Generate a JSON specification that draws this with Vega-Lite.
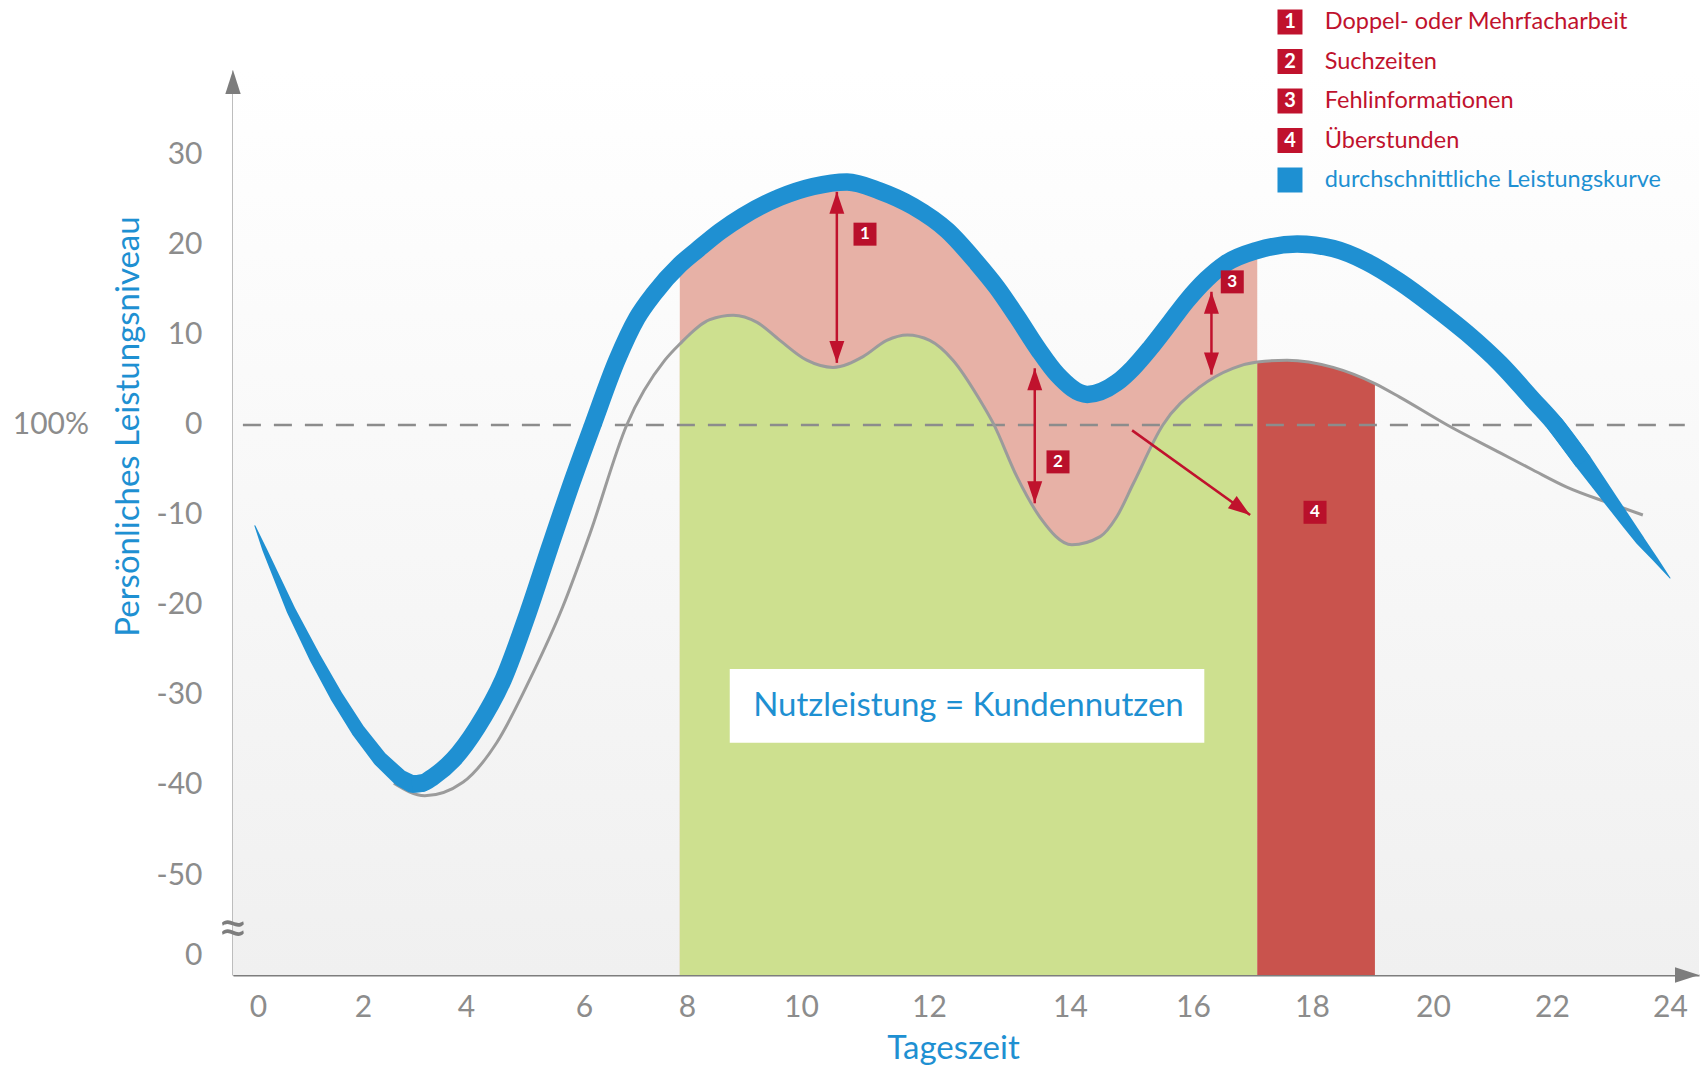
{
  "$schema": "https://vega.github.io/schema/vega-lite/v6.json",
  "width": 1466,
  "height": 905,
  "autosize": {"type": "none"},
  "padding": {"left": 233, "top": 70, "right": 3, "bottom": 90},
  "background": "white",
  "config": {"view": {"stroke": null}, "font": "Lato"},
  "datasets": {
    "leistung": [
      {"t": -0.06, "niveau": -11.2, "streuung": 0},
      {"t": 0.13, "niveau": -13.9, "streuung": 0.55},
      {"t": 0.63, "niveau": -20.6, "streuung": 1.05},
      {"t": 1.09, "niveau": -25.9, "streuung": 1.35},
      {"t": 1.49, "niveau": -30.1, "streuung": 1.5},
      {"t": 1.9, "niveau": -33.9, "streuung": 1.6},
      {"t": 2.33, "niveau": -37.1, "streuung": 1.75},
      {"t": 2.72, "niveau": -39.2, "streuung": 1.9},
      {"t": 2.95, "niveau": -39.9, "streuung": 2.0},
      {"t": 3.15, "niveau": -39.8, "streuung": 2.0},
      {"t": 3.36, "niveau": -39.1, "streuung": 2.0},
      {"t": 3.75, "niveau": -37.2, "streuung": 2.0},
      {"t": 4.19, "niveau": -33.6, "streuung": 2.0},
      {"t": 4.63, "niveau": -28.3, "streuung": 2.0},
      {"t": 5.05, "niveau": -20.9, "streuung": 2.0},
      {"t": 5.42, "niveau": -13.6, "streuung": 2.0},
      {"t": 5.81, "niveau": -6.1, "streuung": 2.0},
      {"t": 6.17, "niveau": 0.0, "streuung": 2.0},
      {"t": 6.64, "niveau": 7.2, "streuung": 2.0},
      {"t": 7.03, "niveau": 11.9, "streuung": 2.0},
      {"t": 7.36, "niveau": 14.6, "streuung": 2.0},
      {"t": 7.86, "niveau": 17.8, "streuung": 2.0},
      {"t": 8.19, "niveau": 19.5, "streuung": 2.0},
      {"t": 8.58, "niveau": 21.5, "streuung": 2.0},
      {"t": 8.98, "niveau": 23.2, "streuung": 2.0},
      {"t": 9.63, "niveau": 25.3, "streuung": 2.0},
      {"t": 10.19, "niveau": 26.5, "streuung": 2.0},
      {"t": 10.72, "niveau": 27.0, "streuung": 2.0},
      {"t": 11.23, "niveau": 26.0, "streuung": 2.0},
      {"t": 11.75, "niveau": 24.3, "streuung": 2.0},
      {"t": 12.26, "niveau": 21.6, "streuung": 2.0},
      {"t": 12.68, "niveau": 18.0, "streuung": 2.0},
      {"t": 12.96, "niveau": 15.3, "streuung": 2.0},
      {"t": 13.25, "niveau": 12.0, "streuung": 2.0},
      {"t": 13.55, "niveau": 8.4, "streuung": 2.0},
      {"t": 13.82, "niveau": 5.6, "streuung": 2.0},
      {"t": 14.28, "niveau": 3.4, "streuung": 2.0},
      {"t": 14.76, "niveau": 4.7, "streuung": 2.0},
      {"t": 15.02, "niveau": 6.3, "streuung": 2.0},
      {"t": 15.3, "niveau": 8.5, "streuung": 2.0},
      {"t": 15.63, "niveau": 11.4, "streuung": 2.0},
      {"t": 15.9, "niveau": 13.8, "streuung": 2.0},
      {"t": 16.23, "niveau": 16.2, "streuung": 2.0},
      {"t": 16.54, "niveau": 17.9, "streuung": 2.0},
      {"t": 17.08, "niveau": 19.4, "streuung": 2.0},
      {"t": 17.75, "niveau": 20.1, "streuung": 2.0},
      {"t": 18.35, "niveau": 19.6, "streuung": 2.0},
      {"t": 18.91, "niveau": 18.1, "streuung": 2.0},
      {"t": 19.45, "niveau": 15.9, "streuung": 2.0},
      {"t": 20.0, "niveau": 13.2, "streuung": 2.0},
      {"t": 20.57, "niveau": 10.2, "streuung": 2.0},
      {"t": 21.13, "niveau": 6.8, "streuung": 2.0},
      {"t": 21.68, "niveau": 2.8, "streuung": 2.0},
      {"t": 22.05, "niveau": 0.1, "streuung": 2.0},
      {"t": 22.53, "niveau": -4.1, "streuung": 2.0},
      {"t": 22.98, "niveau": -8.2, "streuung": 1.6},
      {"t": 23.3, "niveau": -11.1, "streuung": 1.3},
      {"t": 23.49, "niveau": -12.8, "streuung": 1.1},
      {"t": 23.75, "niveau": -14.9, "streuung": 0.6},
      {"t": 24.0, "niveau": -17.0, "streuung": 0}
    ],
    "nutz": [
      {"t": 2.6, "niveau": -39.8},
      {"t": 3.2, "niveau": -41.2},
      {"t": 3.94, "niveau": -39.7},
      {"t": 4.52, "niveau": -35.3},
      {"t": 5.08, "niveau": -28.3},
      {"t": 5.64, "niveau": -20.2},
      {"t": 6.12, "niveau": -12.0},
      {"t": 6.83, "niveau": 0.0},
      {"t": 7.57, "niveau": 7.2},
      {"t": 7.86, "niveau": 9.0},
      {"t": 8.4, "niveau": 11.7},
      {"t": 8.81, "niveau": 12.2},
      {"t": 9.23, "niveau": 11.4},
      {"t": 9.63, "niveau": 9.4},
      {"t": 10.09, "niveau": 7.2},
      {"t": 10.5, "niveau": 6.4},
      {"t": 10.97, "niveau": 7.6},
      {"t": 11.34, "niveau": 9.4},
      {"t": 11.66, "niveau": 10.0},
      {"t": 12.01, "niveau": 9.4},
      {"t": 12.34, "niveau": 7.2},
      {"t": 12.72, "niveau": 2.8},
      {"t": 12.91, "niveau": 0.2},
      {"t": 13.25, "niveau": -5.8},
      {"t": 13.57, "niveau": -10.2},
      {"t": 14.03, "niveau": -13.3},
      {"t": 14.49, "niveau": -12.4},
      {"t": 14.76, "niveau": -10.2},
      {"t": 15.03, "niveau": -6.5},
      {"t": 15.51, "niveau": 0.0},
      {"t": 16.11, "niveau": 4.2},
      {"t": 16.67, "niveau": 6.3},
      {"t": 17.08, "niveau": 7.0},
      {"t": 17.58, "niveau": 7.2},
      {"t": 18.35, "niveau": 6.4},
      {"t": 19.04, "niveau": 4.6},
      {"t": 19.45, "niveau": 3.1},
      {"t": 20.24, "niveau": 0.0},
      {"t": 21.13, "niveau": -3.1},
      {"t": 21.68, "niveau": -5.0},
      {"t": 22.25, "niveau": -6.9},
      {"t": 22.98, "niveau": -8.7},
      {"t": 23.54, "niveau": -10.0}
    ],
    "pfeile": [
      {"nr": "1", "t": 10.56, "von": 25.9, "bis": 6.9},
      {"nr": "2", "t": 13.5, "von": 6.3, "bis": -8.7},
      {"nr": "3", "t": 16.31, "von": 14.8, "bis": 5.6}
    ],
    "pfeil4": [
      {"nr": "4", "t": 15.01, "von": -0.6, "t2": 16.96, "bis": -10.0}
    ],
    "marker": [
      {"nr": "1", "t": 11.0, "niveau": 21.2},
      {"nr": "2", "t": 13.83, "niveau": -4.1},
      {"nr": "3", "t": 16.66, "niveau": 15.9},
      {"nr": "4", "t": 18.05, "niveau": -9.7}
    ],
    "legende": [
      {"nr": "1", "eintrag": "Doppel- oder Mehrfacharbeit", "typ": "Verlust"},
      {"nr": "2", "eintrag": "Suchzeiten", "typ": "Verlust"},
      {"nr": "3", "eintrag": "Fehlinformationen", "typ": "Verlust"},
      {"nr": "4", "eintrag": "Überstunden", "typ": "Verlust"},
      {"nr": "", "eintrag": "durchschnittliche Leistungskurve", "typ": "Kurve"}
    ]
  },
  "resolve": {"scale": {"y": "independent"}},
  "layer": [
    {
      "layer": [
        {
          "data": {"values": [{}]},
          "mark": {"type": "rect", "color": {"gradient": "linear", "x1": 0, "y1": 0, "x2": 0, "y2": 1, "stops": [{"offset": 0, "color": "#ffffff"}, {"offset": 1, "color": "#f0f0f0"}]}},
          "encoding": {
            "x": {"datum": -0.48, "type": "quantitative",
              "scale": {"domain": [-0.48, 0, 2, 4, 6, 8, 10, 12, 14, 16, 18, 20, 22, 24, 24.49], "range": [0, 25, 130, 233, 351, 454, 568, 696, 837, 960, 1079, 1200, 1319, 1437, 1466], "nice": false, "zero": false},
              "axis": {"values": [0, 2, 4, 6, 8, 10, 12, 14, 16, 18, 20, 22, 24], "labelExpr": "'' + datum.value", "title": "Tageszeit", "titleColor": "#1e90d2", "titleFontSize": 33, "titleFontWeight": "normal", "titleX": 720, "titleY": 73, "titleBaseline": "middle", "labelPadding": 17, "ticks": false, "tickSize": 0, "grid": false, "domainColor": "#7d7d7d", "domainWidth": 2, "labelColor": "#8c8c8c", "labelFontSize": 30, "labelFlush": false, "labelOverlap": false, "orient": "bottom"}},
            "x2": {"datum": 24.49},
            "y": {"datum": 39.44, "type": "quantitative",
              "scale": {"domain": [-61.11, 39.44], "nice": false, "zero": false},
              "axis": {"values": [30, 20, 10, 0, -10, -20, -30, -40, -50, -58.9], "labelExpr": "datum.value < -55 ? '0' : '' + datum.value", "title": "Persönliches Leistungsniveau", "titleColor": "#1e90d2", "titleFontSize": 33, "titleFontWeight": "normal", "titleAngle": -90, "titleX": -105, "titleY": 356, "titleBaseline": "middle", "titleAlign": "center", "labelPadding": 31, "ticks": false, "tickSize": 0, "grid": false, "domainColor": "#7d7d7d", "domainWidth": 2, "labelColor": "#8c8c8c", "labelFontSize": 30, "labelOverlap": false, "labelFlush": false}},
            "y2": {"datum": -61.11}
          }
        },
        {
          "data": {"name": "leistung"},
          "transform": [{"filter": "datum.t >= 7.86 && datum.t <= 17.08"}],
          "mark": {"type": "area", "color": "#e7b1a6", "interpolate": "monotone"},
          "encoding": {"x": {"field": "t", "type": "quantitative"}, "y": {"field": "niveau", "type": "quantitative"}, "y2": {"datum": -61.11}}
        },
        {
          "data": {"name": "nutz"},
          "transform": [{"filter": "datum.t >= 7.86 && datum.t <= 17.08"}],
          "mark": {"type": "area", "color": "#cde08f", "interpolate": "monotone"},
          "encoding": {"x": {"field": "t", "type": "quantitative"}, "y": {"field": "niveau", "type": "quantitative"}, "y2": {"datum": -61.11}}
        },
        {
          "data": {"name": "nutz"},
          "transform": [{"filter": "datum.t >= 17.08 && datum.t <= 19.04"}],
          "mark": {"type": "area", "color": "#c9534d", "interpolate": "monotone"},
          "encoding": {"x": {"field": "t", "type": "quantitative"}, "y": {"field": "niveau", "type": "quantitative"}, "y2": {"datum": -61.11}}
        },
        {
          "data": {"values": [{}]},
          "mark": {"type": "rule", "color": "#8c8c8c", "strokeWidth": 2.5, "strokeDash": [18, 13]},
          "encoding": {"x": {"datum": -0.29}, "x2": {"datum": 24.25}, "y": {"datum": 0}}
        },
        {
          "data": {"values": [{}]},
          "mark": {"type": "rect", "color": "#ffffff"},
          "encoding": {"x": {"datum": 8.75}, "x2": {"datum": 16.19}, "y": {"datum": -27.1}, "y2": {"datum": -35.3}}
        },
        {
          "data": {"values": [{"label": "Nutzleistung = Kundennutzen"}]},
          "mark": {"type": "text", "color": "#1e90d2", "fontSize": 33, "align": "center", "baseline": "middle"},
          "encoding": {"x": {"datum": 12.56}, "y": {"datum": -31.2}, "text": {"field": "label"}}
        },
        {
          "data": {"name": "nutz"},
          "mark": {"type": "line", "color": "#9b9b9b", "strokeWidth": 3, "interpolate": "monotone"},
          "encoding": {"x": {"field": "t", "type": "quantitative"}, "y": {"field": "niveau", "type": "quantitative"}}
        },
        {
          "data": {"name": "leistung"},
          "transform": [{"filter": "datum.t <= 3.15"}],
          "mark": {"type": "trail", "color": "#1f90d2"},
          "encoding": {
            "x": {"field": "t", "type": "quantitative"},
            "y": {"field": "niveau", "type": "quantitative"},
            "size": {"field": "streuung", "type": "quantitative", "scale": {"domain": [0, 2], "range": [0, 17.5]}, "legend": null}
          }
        },
        {
          "data": {"name": "leistung"},
          "transform": [{"filter": "datum.t >= 22.05"}],
          "mark": {"type": "trail", "color": "#1f90d2"},
          "encoding": {
            "x": {"field": "t", "type": "quantitative"},
            "y": {"field": "niveau", "type": "quantitative"},
            "size": {"field": "streuung", "type": "quantitative", "scale": {"domain": [0, 2], "range": [0, 17.5]}, "legend": null}
          }
        },
        {
          "data": {"name": "leistung"},
          "transform": [{"filter": "datum.t >= 2.95 && datum.t <= 22.53"}],
          "mark": {"type": "line", "color": "#1f90d2", "strokeWidth": 17.5, "interpolate": "monotone", "strokeCap": "butt"},
          "encoding": {"x": {"field": "t", "type": "quantitative"}, "y": {"field": "niveau", "type": "quantitative"}}
        },
        {
          "data": {"name": "pfeile"},
          "mark": {"type": "rule", "color": "#c0122d", "strokeWidth": 2.5},
          "encoding": {"x": {"field": "t", "type": "quantitative"}, "y": {"field": "von", "type": "quantitative"}, "y2": {"field": "bis"}}
        },
        {
          "data": {"name": "pfeile"},
          "mark": {"type": "point", "shape": "M0,0L0.34,1L-0.34,1Z", "size": 1936, "filled": true, "opacity": 1, "color": "#c0122d"},
          "encoding": {"x": {"field": "t", "type": "quantitative"}, "y": {"field": "von", "type": "quantitative"}}
        },
        {
          "data": {"name": "pfeile"},
          "mark": {"type": "point", "shape": "M0,0L0.34,-1L-0.34,-1Z", "size": 1936, "filled": true, "opacity": 1, "color": "#c0122d"},
          "encoding": {"x": {"field": "t", "type": "quantitative"}, "y": {"field": "bis", "type": "quantitative"}}
        },
        {
          "data": {"name": "pfeil4"},
          "mark": {"type": "rule", "color": "#c0122d", "strokeWidth": 2.5},
          "encoding": {"x": {"field": "t", "type": "quantitative"}, "x2": {"field": "t2"}, "y": {"field": "von", "type": "quantitative"}, "y2": {"field": "bis"}}
        },
        {
          "data": {"name": "pfeil4"},
          "mark": {"type": "point", "shape": "M0,0L-1,-0.34L-1,0.34Z", "size": 1936, "filled": true, "opacity": 1, "color": "#c0122d", "angle": 35.8},
          "encoding": {"x": {"field": "t2", "type": "quantitative"}, "y": {"field": "bis", "type": "quantitative"}}
        },
        {
          "data": {"name": "marker"},
          "mark": {"type": "point", "shape": "square", "size": 529, "filled": true, "opacity": 1, "color": "#b9102b"},
          "encoding": {"x": {"field": "t", "type": "quantitative"}, "y": {"field": "niveau", "type": "quantitative"}}
        },
        {
          "data": {"name": "marker"},
          "mark": {"type": "text", "color": "#ffffff", "fontSize": 17, "fontWeight": "bold", "align": "center", "baseline": "middle"},
          "encoding": {"x": {"field": "t", "type": "quantitative"}, "y": {"field": "niveau", "type": "quantitative"}, "text": {"field": "nr"}}
        },
        {
          "data": {"values": [{}]},
          "mark": {"type": "point", "shape": "M0,0L0.32,1L-0.32,1Z", "size": 2304, "filled": true, "opacity": 1, "color": "#7d7d7d"},
          "encoding": {"x": {"datum": -0.48}, "y": {"datum": 39.44}}
        },
        {
          "data": {"values": [{}]},
          "mark": {"type": "point", "shape": "M0,0L-1,-0.32L-1,0.32Z", "size": 2304, "filled": true, "opacity": 1, "color": "#7d7d7d"},
          "encoding": {"x": {"datum": 24.49}, "y": {"datum": -61.11}}
        },
        {
          "data": {"values": [{"label": "≈"}]},
          "mark": {"type": "text", "color": "#7d7d7d", "fontSize": 54, "align": "center", "baseline": "middle"},
          "encoding": {"x": {"datum": -0.48}, "y": {"datum": -56.1}, "text": {"field": "label"}}
        },
        {
          "data": {"values": [{"label": "100%"}]},
          "mark": {"type": "text", "color": "#8c8c8c", "fontSize": 30, "align": "right", "baseline": "middle", "dx": -144},
          "encoding": {"x": {"datum": -0.48}, "y": {"datum": 0}, "text": {"field": "label"}}
        }
      ]
    },
    {
      "data": {"name": "legende"},
      "encoding": {
        "y": {"field": "eintrag", "type": "nominal", "sort": null, "scale": {"type": "point", "range": [-48, 110], "padding": 0}, "axis": null}
      },
      "layer": [
        {
          "mark": {"type": "point", "shape": "square", "size": 625, "filled": true, "opacity": 1},
          "encoding": {
            "x": {"datum": 17.63},
            "color": {"field": "typ", "type": "nominal", "scale": {"domain": ["Verlust", "Kurve"], "range": ["#c0122d", "#1e90d2"]}, "legend": null}
          }
        },
        {
          "mark": {"type": "text", "color": "#ffffff", "fontSize": 20, "fontWeight": "bold", "align": "center", "baseline": "middle"},
          "encoding": {"x": {"datum": 17.63}, "text": {"field": "nr"}}
        },
        {
          "mark": {"type": "text", "fontSize": 23.5, "align": "left", "baseline": "middle"},
          "encoding": {
            "x": {"datum": 18.21},
            "text": {"field": "eintrag"},
            "color": {"field": "typ", "type": "nominal", "scale": {"domain": ["Verlust", "Kurve"], "range": ["#c0122d", "#1e90d2"]}, "legend": null}
          }
        }
      ]
    }
  ]
}
